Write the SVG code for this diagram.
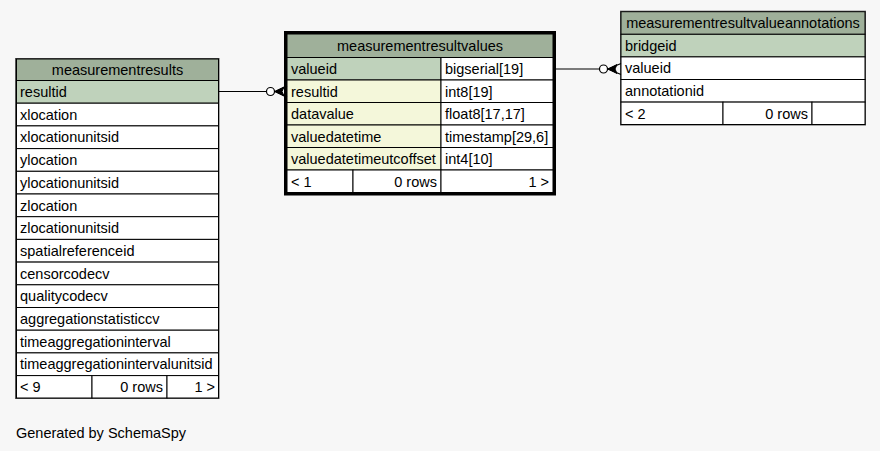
<svg xmlns="http://www.w3.org/2000/svg" width="880" height="451" viewBox="0 0 880 451">
<style>
text{font-family:"Liberation Sans",Arial,sans-serif;font-size:14.5px;fill:#000}
.c{text-anchor:middle}
.e{text-anchor:end}
.h{fill:#9fb09a;stroke:#000;stroke-width:1}
.pk{fill:#bfd2bb;stroke:#000;stroke-width:1}
.fk{fill:#f4f7da;stroke:#000;stroke-width:1}
.w{fill:#fff;stroke:#000;stroke-width:1}
.ln{fill:none;stroke:#000;stroke-width:1.2}
.od{fill:#fff;stroke:#000;stroke-width:1.2}
.cr{fill:#000;stroke:#000;stroke-width:1}
</style>
<rect width="880" height="451" fill="#f7f7f7"/>

<g id="measurementresults">
<rect x="15.5" y="58.5" width="203.5" height="340" fill="none" stroke="#555" stroke-width="1"/>
<rect class="h" x="16.5" y="59" width="202" height="21.5"/>
<text class="c" x="117.5" y="75">measurementresults</text>
<rect class="pk" x="16.5" y="80.5" width="202" height="22.7"/>
<text x="20" y="97">resultid</text>
<rect class="w" x="16.5" y="103.2" width="202" height="22.7"/>
<text x="20" y="119.7">xlocation</text>
<rect class="w" x="16.5" y="125.9" width="202" height="22.7"/>
<text x="20" y="142.4">xlocationunitsid</text>
<rect class="w" x="16.5" y="148.6" width="202" height="22.7"/>
<text x="20" y="165.1">ylocation</text>
<rect class="w" x="16.5" y="171.3" width="202" height="22.7"/>
<text x="20" y="187.8">ylocationunitsid</text>
<rect class="w" x="16.5" y="194" width="202" height="22.7"/>
<text x="20" y="210.5">zlocation</text>
<rect class="w" x="16.5" y="216.7" width="202" height="22.7"/>
<text x="20" y="233.2">zlocationunitsid</text>
<rect class="w" x="16.5" y="239.4" width="202" height="22.7"/>
<text x="20" y="255.9">spatialreferenceid</text>
<rect class="w" x="16.5" y="262.1" width="202" height="22.7"/>
<text x="20" y="278.6">censorcodecv</text>
<rect class="w" x="16.5" y="284.8" width="202" height="22.7"/>
<text x="20" y="301.3">qualitycodecv</text>
<rect class="w" x="16.5" y="307.5" width="202" height="22.7"/>
<text x="20" y="324">aggregationstatisticcv</text>
<rect class="w" x="16.5" y="330.2" width="202" height="22.7"/>
<text x="20" y="346.7">timeaggregationinterval</text>
<rect class="w" x="16.5" y="352.9" width="202" height="22.7"/>
<text x="20" y="369.4">timeaggregationintervalunitsid</text>
<rect class="w" x="16.5" y="375.6" width="75.5" height="22.4"/>
<rect class="w" x="92" y="375.6" width="75" height="22.4"/>
<rect class="w" x="167" y="375.6" width="51.5" height="22.4"/>
<text x="20" y="392">&lt; 9</text>
<text class="e" x="163" y="392">0 rows</text>
<text class="e" x="215" y="392">1 &gt;</text>
</g>

<g id="measurementresultvalues">
<rect class="h" x="287" y="34" width="266" height="23.5"/>
<text class="c" x="420" y="51">measurementresultvalues</text>
<rect class="pk" x="287" y="57.5" width="154" height="22.5"/>
<rect class="w" x="441" y="57.5" width="112" height="22.5"/>
<text x="291" y="74">valueid</text>
<text x="445" y="74">bigserial[19]</text>
<rect class="fk" x="287" y="80" width="154" height="22.5"/>
<rect class="w" x="441" y="80" width="112" height="22.5"/>
<text x="291" y="96.5">resultid</text>
<text x="445" y="96.5">int8[19]</text>
<rect class="fk" x="287" y="102.5" width="154" height="22.5"/>
<rect class="w" x="441" y="102.5" width="112" height="22.5"/>
<text x="291" y="119">datavalue</text>
<text x="445" y="119">float8[17,17]</text>
<rect class="fk" x="287" y="125" width="154" height="22.5"/>
<rect class="w" x="441" y="125" width="112" height="22.5"/>
<text x="291" y="141.5">valuedatetime</text>
<text x="445" y="141.5">timestamp[29,6]</text>
<rect class="fk" x="287" y="147.5" width="154" height="22.5"/>
<rect class="w" x="441" y="147.5" width="112" height="22.5"/>
<text x="291" y="164">valuedatetimeutcoffset</text>
<text x="445" y="164">int4[10]</text>
<rect class="w" x="287" y="170" width="66" height="22.5"/>
<rect class="w" x="353" y="170" width="88" height="22.5"/>
<rect class="w" x="441" y="170" width="112" height="22.5"/>
<text x="291" y="186.5">&lt; 1</text>
<text class="e" x="437" y="186.5">0 rows</text>
<text class="e" x="549" y="186.5">1 &gt;</text>
<rect x="285.5" y="32.5" width="269" height="161.5" fill="none" stroke="#000" stroke-width="3"/>
</g>

<g id="measurementresultvalueannotations">
<rect x="620.5" y="11.2" width="245" height="113.8" fill="none" stroke="#555" stroke-width="1"/>
<rect class="h" x="621" y="11.7" width="244" height="22.6"/>
<text class="c" x="743" y="28">measurementresultvalueannotations</text>
<rect class="pk" x="621" y="34.3" width="244" height="22.6"/>
<text x="625" y="50.8">bridgeid</text>
<rect class="w" x="621" y="56.9" width="244" height="22.6"/>
<text x="625" y="73.4">valueid</text>
<rect class="w" x="621" y="79.5" width="244" height="22.6"/>
<text x="625" y="96">annotationid</text>
<rect class="w" x="621" y="102.1" width="102" height="22.4"/>
<rect class="w" x="723" y="102.1" width="89" height="22.4"/>
<rect class="w" x="812" y="102.1" width="53" height="22.4"/>
<text x="625" y="118.5">&lt; 2</text>
<text class="e" x="808" y="118.5">0 rows</text>
</g>

<g id="connectors">
<path class="ln" d="M219,91.5 L266.5,91.5"/>
<circle class="od" cx="270.5" cy="91.5" r="4"/>
<polygon class="cr" points="275,91.5 284,87 282,91.5 284,96"/>
<path class="ln" d="M275,91.5 L287,86 M275,91.5 L287,97"/>
<path class="ln" d="M556,69 L599.5,69"/>
<circle class="od" cx="603.5" cy="69" r="4"/>
<polygon class="cr" points="608,69 617,64.5 615,69 617,73.5"/>
<path class="ln" d="M608,69 L621,63.5 M608,69 L621,74.5"/>
</g>

<text x="16" y="438">Generated by SchemaSpy</text>
</svg>
